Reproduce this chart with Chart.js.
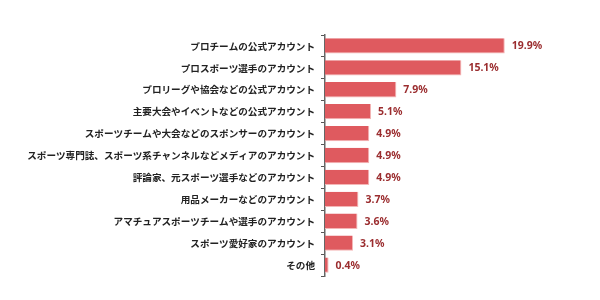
<!DOCTYPE html>
<html lang="ja">
  <head>
    <meta charset="UTF-8" />
    <title>フォローしているアカウント</title>
    <script src="https://cdn.jsdelivr.net/npm/chart.js"></script>
    <style>
      html, body { margin: 0; padding: 0; background: #fff; }
      .wrap { width: 600px; height: 300px; }
    </style>
  </head>
  <body>
    <div class="wrap"><canvas id="myChart" width="600" height="300"></canvas></div>
    <script>
      // カテゴリと値（%）
      const categories = [
        "プロチームの公式アカウント",
        "プロスポーツ選手のアカウント",
        "プロリーグや協会などの公式アカウント",
        "主要大会やイベントなどの公式アカウント",
        "スポーツチームや大会などのスポンサーのアカウント",
        "スポーツ専門誌、スポーツ系チャンネルなどメディアのアカウント",
        "評論家、元スポーツ選手などのアカウント",
        "用品メーカーなどのアカウント",
        "アマチュアスポーツチームや選手のアカウント",
        "スポーツ愛好家のアカウント",
        "その他",
      ];
      const values = [19.9, 15.1, 7.9, 5.1, 4.9, 4.9, 4.9, 3.7, 3.6, 3.1, 0.4];

      // バーの右に値ラベルを描く
      const valueLabels = {
        id: "valueLabels",
        afterDatasetsDraw(chart) {
          const ctx = chart.ctx;
          const meta = chart.getDatasetMeta(0);
          ctx.save();
          ctx.font = "bold 10.5px 'Noto Sans', sans-serif";
          ctx.fillStyle = "#9b2d2f";
          ctx.textAlign = "left";
          ctx.textBaseline = "middle";
          meta.data.forEach((bar, i) => {
            ctx.fillText(values[i].toFixed(1) + "%", bar.x + 7, bar.y + 0.5);
          });
          ctx.restore();
        },
      };

      const ctx = document.getElementById("myChart").getContext("2d");
      new Chart(ctx, {
        type: "bar",
        data: {
          labels: categories,
          datasets: [
            {
              data: values,
              backgroundColor: "#df5a5f",
              borderColor: "#f4b6b6",
              borderWidth: { top: 0, left: 0, right: 1, bottom: 1 },
              borderSkipped: false,
              barPercentage: 0.7,
              categoryPercentage: 1,
            },
          ],
        },
        options: {
          indexAxis: "y",
          responsive: false,
          animation: false,
          layout: { padding: { top: 35, bottom: 24, left: 0, right: 4 } },
          plugins: {
            legend: { display: false },
            tooltip: { enabled: false },
          },
          scales: {
            x: {
              display: false,
              min: 0,
              max: 30,
            },
            y: {
              afterFit(scale) {
                scale.width = 325;
              },
              grid: {
                drawOnChartArea: false,
                offset: true,
                tickLength: 4,
                color: "#555",
              },
              border: { color: "#666", width: 1.5 },
              ticks: {
                padding: 6,
                color: "#222",
                font: { family: "'Noto Sans CJK JP'", size: 9.6, weight: "bold" },
              },
            },
          },
        },
        plugins: [valueLabels],
      });
    </script>
  </body>
</html>
